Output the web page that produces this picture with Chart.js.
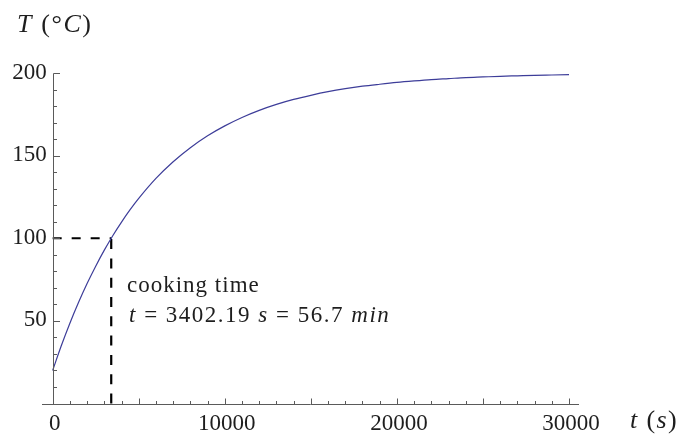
<!DOCTYPE html>
<html><head><meta charset="utf-8">
<script src="https://cdn.jsdelivr.net/npm/chart.js@4/dist/chart.umd.min.js"></script>
<style>html,body{margin:0;padding:0;background:#fff;overflow:hidden}</style>
</head><body>
<canvas id="c" width="681" height="437" style="width:681px;height:437px;display:block"></canvas>
<script>
// ---- data ----
const timeSeconds = [0, 500, 1000, 1500, 2000, 2500, 3000, 3500, 4000, 4500, 5000,
  6000, 7000, 8000, 9000, 10000, 11000, 12000, 13000, 14000, 15000, 16000, 17000,
  18000, 19000, 20000, 21000, 22000, 23000, 24000, 25000, 26000, 27000, 28000, 29000, 30000];
const temperatureC = [20, 34.9, 48.6, 61.1, 72.6, 83.1, 92.8, 101.7, 109.8, 117.3, 124.1,
  136.2, 146.3, 154.8, 162.0, 168.0, 173.1, 177.4, 181.0, 184.0, 186.5, 188.7, 190.5,
  192.0, 193.2, 194.3, 195.2, 196.0, 196.6, 197.2, 197.6, 198.0, 198.3, 198.6, 198.8, 199.0];
const cookTime = 3402.19;
const cookTemp = 100;
const xTickValues = [0, 10000, 20000, 30000];
const xTickLabels = ['0', '10000', '20000', '30000'];
const yTickValues = [50, 100, 150, 200];
const yTickLabels = ['50', '100', '150', '200'];
const annotationLine1 = [['cooking time', false]];
const annotationLine2 = [['t', true], [' = 3402.19 ', false], ['s', true], [' = 56.7 ', false], ['min', true]];
const yAxisTitle = [['T', true], [' (', false], ['°', false], ['C', true], [')', false]];
const xAxisTitle = [['t', true], [' (', false], ['s', true], [')', false]];

const X_MIN = -620, X_MAX = 30580, Y_MIN = 0, Y_MAX = 200;
const X_MINOR = 1000, X_MID = 5000, Y_MINOR = 10, Y_MAJOR = 50;
const FAMILY = '"Liberation Serif"';
const AXIS_COLOR = '#5a5a5a';
const TEXT_COLOR = '#1e1e1e';

// draw text parts char by char with extra spacing
function drawRich(ctx, parts, x, y, size, spacing) {
  let cx = x;
  ctx.textAlign = 'left';
  for (const [txt, ital] of parts) {
    ctx.font = (ital ? 'italic ' : '') + size + 'px ' + FAMILY;
    for (const ch of txt) {
      ctx.fillText(ch, cx, y);
      cx += ctx.measureText(ch).width + spacing;
    }
  }
}

const axesPlugin = {
  id: 'mmaAxes',
  afterDraw(chart) {
    const ctx = chart.ctx;
    const xs = chart.scales.x, ys = chart.scales.y;
    const x0 = xs.getPixelForValue(0), y0 = ys.getPixelForValue(0);
    const ax = Math.round(x0) + 0.5, ay = Math.round(y0) + 0.5;
    ctx.save();
    ctx.strokeStyle = AXIS_COLOR;
    ctx.lineWidth = 1;
    ctx.setLineDash([]);
    ctx.beginPath();
    ctx.moveTo(chart.chartArea.left, ay);
    ctx.lineTo(chart.chartArea.right, ay);
    ctx.moveTo(ax, Math.round(ys.getPixelForValue(Y_MAX)) + 0.5);
    ctx.lineTo(ax, ay);
    ctx.stroke();
    ctx.beginPath();
    for (let v = 0; v <= 30000; v += X_MINOR) {
      const px = Math.round(xs.getPixelForValue(v)) + 0.5;
      const len = (v % X_MID === 0) ? 6 : 3.5;
      ctx.moveTo(px, ay);
      ctx.lineTo(px, ay - len);
    }
    for (let v = Y_MINOR; v <= Y_MAX; v += Y_MINOR) {
      const py = Math.round(ys.getPixelForValue(v)) + 0.5;
      const len = (v % Y_MAJOR === 0) ? 6.5 : 3.5;
      ctx.moveTo(ax, py);
      ctx.lineTo(ax + len, py);
    }
    ctx.stroke();
    ctx.fillStyle = TEXT_COLOR;
    ctx.textBaseline = 'alphabetic';
    ctx.font = '23px ' + FAMILY;
    ctx.textAlign = 'center';
    xTickValues.forEach((v, i) => {
      ctx.fillText(xTickLabels[i], xs.getPixelForValue(v) + 2, y0 + 26);
    });
    ctx.textAlign = 'right';
    yTickValues.forEach((v, i) => {
      ctx.fillText(yTickLabels[i], x0 - 6, ys.getPixelForValue(v) + 5.5);
    });
    drawRich(ctx, yAxisTitle, 17, 32, 26, 1.6);
    drawRich(ctx, xAxisTitle, 630, 428, 26, 1.4);
    drawRich(ctx, annotationLine1, 127, 292, 23, 1);
    drawRich(ctx, annotationLine2, 129, 322, 23, 1.5);
    ctx.restore();
  }
};

new Chart(document.getElementById('c'), {
  type: 'line',
  data: {
    datasets: [
      {
        data: timeSeconds.map((t, i) => ({x: t, y: temperatureC[i]})),
        borderColor: '#3d3d99', borderWidth: 1.2, pointRadius: 0,
        cubicInterpolationMode: 'monotone', fill: false, clip: false
      },
      {
        data: [{x: 0, y: cookTemp}, {x: cookTime, y: cookTemp}],
        borderColor: '#000', borderWidth: 2.2, borderDash: [9, 10], pointRadius: 0, clip: false
      },
      {
        data: [{x: cookTime, y: 0}, {x: cookTime, y: cookTemp}],
        borderColor: '#000', borderWidth: 2.2, borderDash: [10, 9.3], pointRadius: 0, clip: false
      }
    ]
  },
  options: {
    responsive: false, animation: false,
    layout: {padding: {left: 42, right: 102, top: 73, bottom: 33.5}},
    plugins: {legend: {display: false}, tooltip: {enabled: false}},
    events: [],
    scales: {
      x: {type: 'linear', min: X_MIN, max: X_MAX, display: false},
      y: {type: 'linear', min: Y_MIN, max: Y_MAX, display: false}
    }
  },
  plugins: [axesPlugin]
});
</script>
</body></html>
